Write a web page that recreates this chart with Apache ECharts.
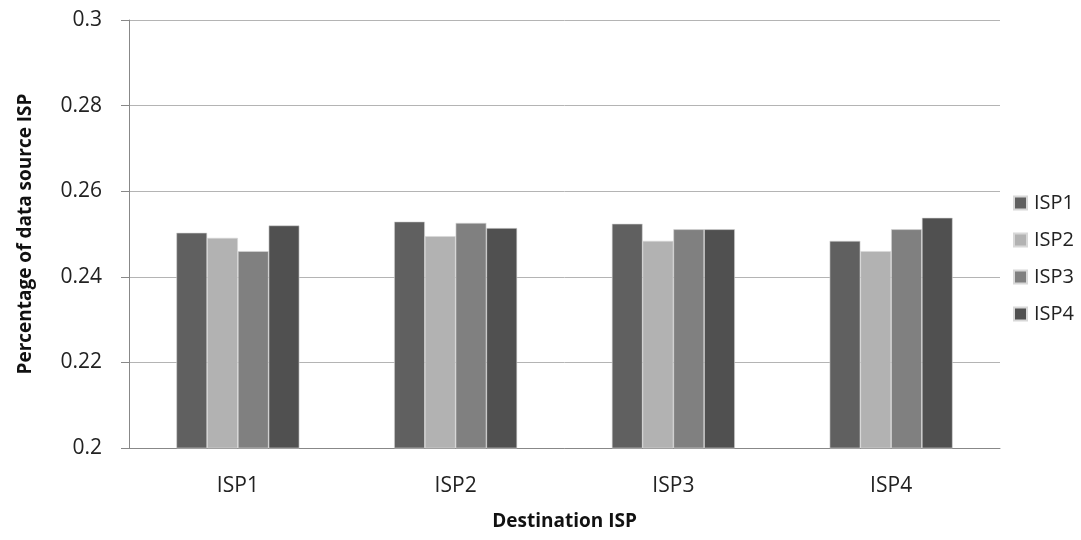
<!DOCTYPE html>
<html><head><meta charset="utf-8">
<script src="https://cdn.jsdelivr.net/npm/echarts@6/dist/echarts.min.js"></script>
<style>html,body{margin:0;padding:0;background:#fff}#c{width:1081px;height:540px}</style>
</head><body><div id="c"></div>
<script>
const categories = ['ISP1','ISP2','ISP3','ISP4'];
const seriesNames = ['ISP1','ISP2','ISP3','ISP4'];
const isp1 = [0.2503, 0.2529, 0.2524, 0.2484];
const isp2 = [0.2491, 0.2495, 0.2484, 0.2460];
const isp3 = [0.2460, 0.2526, 0.2511, 0.2511];
const isp4 = [0.2520, 0.2514, 0.2511, 0.2538];
const yTicks = [0.2, 0.22, 0.24, 0.26, 0.28, 0.3];
const colors = ['#606060','#b2b2b2','#808080','#505050'];
const values = [isp1, isp2, isp3, isp4];
const font = '"Open Sans", "DejaVu Sans", sans-serif';
const chart = echarts.init(document.getElementById('c'));
chart.setOption({
  animation:false,
  backgroundColor:'#fff',
  grid:{left:129,right:81,top:20,bottom:92,containLabel:false},
  legend:{
    orient:'vertical', left:1008, top:188, itemGap:17, itemWidth:13, itemHeight:13, icon:'rect',
    textStyle:{fontFamily:font,fontSize:20,color:'#222',padding:[0,0,0,2]},
    data:seriesNames
  },
  xAxis:{
    type:'category', data:categories,
    name:'Destination ISP', nameLocation:'middle', nameGap:64,
    nameTextStyle:{fontFamily:font,fontSize:19,fontWeight:'bold',color:'#111'},
    axisLine:{lineStyle:{color:'#888'}},
    axisTick:{show:false},
    axisLabel:{fontFamily:font,fontSize:21,color:'#222',margin:28}
  },
  yAxis:{
    type:'value', min:0.2, max:0.3, interval:0.02,
    name:'Percentage of data source ISP', nameLocation:'middle', nameGap:94,
    nameTextStyle:{fontFamily:font,fontSize:19,fontWeight:'bold',color:'#111'},
    axisLine:{show:true,lineStyle:{color:'#888'}},
    axisTick:{show:true,length:8,lineStyle:{color:'#888'}},
    axisLabel:{fontFamily:font,fontSize:21,color:'#222',margin:27,
      formatter:v=>{const t=yTicks.find(x=>Math.abs(x-v)<1e-9);return String(t!==undefined?t:v);}},
    splitLine:{lineStyle:{color:'#b4b4b4'}}
  },
  series: seriesNames.map((n,i)=>({
    name:n, type:'bar', data:values[i], barGap:'0%', barCategoryGap:'43.5%',
    itemStyle:{color:colors[i], borderColor:'#d8d8d8', borderWidth:0.6}
  }))
});
</script></body></html>
